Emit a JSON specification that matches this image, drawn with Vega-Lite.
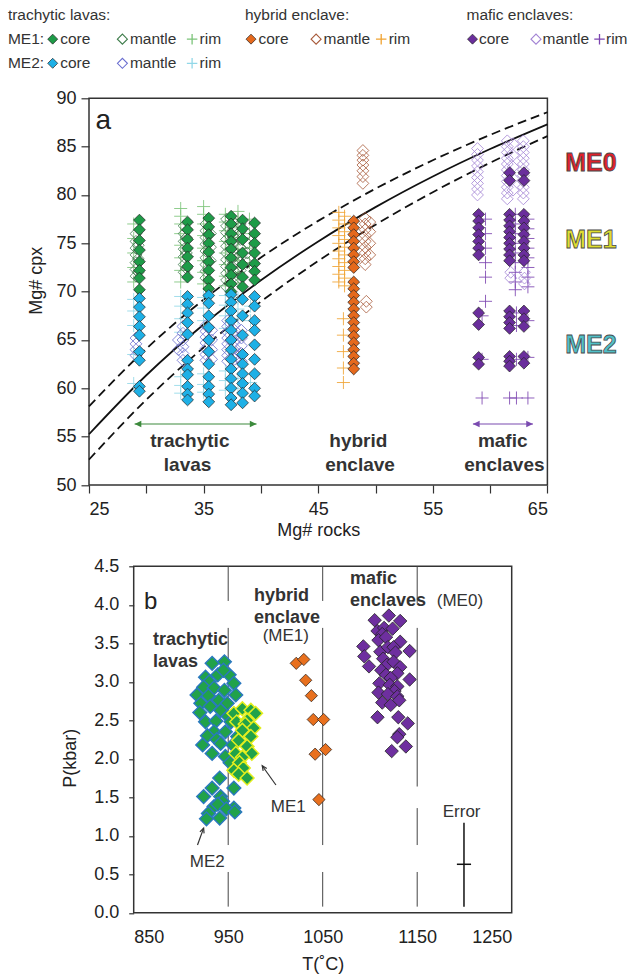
{
"$schema":"https://vega.github.io/schema/vega-lite/v6.json",
"padding":{"left":7,"top":0,"right":0,"bottom":0},
"config":{"font":"Liberation Sans","view":{"stroke":"#333","strokeWidth":1.5},
"axis":{"domain":false,"grid":false,"labelFontSize":18,"titleFontSize":18,"labelColor":"#222","titleColor":"#222","titleFontWeight":"normal","tickColor":"#333","tickWidth":1.2,"labelFont":"Liberation Sans","titleFont":"Liberation Sans"},
"text":{"font":"Liberation Sans"}},
"datasets":{
"legend":[
{"group":"trachytic","row":"r2","part":"core","series":"ME1 core"},
{"group":"trachytic","row":"r2","part":"mantle","series":"ME1 mantle"},
{"group":"trachytic","row":"r2","part":"rim","series":"ME1 rim"},
{"group":"trachytic","row":"r3","part":"core","series":"ME2 core"},
{"group":"trachytic","row":"r3","part":"mantle","series":"ME2 mantle"},
{"group":"trachytic","row":"r3","part":"rim","series":"ME2 rim"},
{"group":"hybrid","row":"r2","part":"core","series":"hybrid core"},
{"group":"hybrid","row":"r2","part":"mantle","series":"hybrid mantle"},
{"group":"hybrid","row":"r2","part":"rim","series":"hybrid rim"},
{"group":"mafic","row":"r2","part":"core","series":"mafic core"},
{"group":"mafic","row":"r2","part":"mantle","series":"mafic mantle"},
{"group":"mafic","row":"r2","part":"rim","series":"mafic rim"}],
"legendHeads":[
{"group":"trachytic","row":"r1","text":"trachytic lavas:"},
{"group":"trachytic","row":"r2","text":"ME1:"},
{"group":"trachytic","row":"r3","text":"ME2:"},
{"group":"hybrid","row":"r1","text":"hybrid enclave:"},
{"group":"mafic","row":"r1","text":"mafic enclaves:"}],
"curves":[
{"kd":"0.27","rock":25,"cpx":55.25},{"kd":"0.27","rock":30,"cpx":61.35},{"kd":"0.27","rock":35,"cpx":66.6},{"kd":"0.27","rock":40,"cpx":71.17},{"kd":"0.27","rock":45,"cpx":75.19},{"kd":"0.27","rock":50,"cpx":78.74},{"kd":"0.27","rock":55,"cpx":81.91},{"kd":"0.27","rock":60,"cpx":84.75},{"kd":"0.27","rock":65,"cpx":87.31},
{"kd":"0.24","rock":25,"cpx":58.14},{"kd":"0.24","rock":30,"cpx":64.1},{"kd":"0.24","rock":35,"cpx":69.17},{"kd":"0.24","rock":40,"cpx":73.53},{"kd":"0.24","rock":45,"cpx":77.32},{"kd":"0.24","rock":50,"cpx":80.65},{"kd":"0.24","rock":55,"cpx":83.59},{"kd":"0.24","rock":60,"cpx":86.21},{"kd":"0.24","rock":65,"cpx":88.56},
{"kd":"0.30","rock":25,"cpx":52.63},{"kd":"0.30","rock":30,"cpx":58.82},{"kd":"0.30","rock":35,"cpx":64.22},{"kd":"0.30","rock":40,"cpx":68.97},{"kd":"0.30","rock":45,"cpx":73.17},{"kd":"0.30","rock":50,"cpx":76.92},{"kd":"0.30","rock":55,"cpx":80.29},{"kd":"0.30","rock":60,"cpx":83.33},{"kd":"0.30","rock":65,"cpx":86.09}],
"cpx":[
{"series":"ME1 rim","rock":28.9,"cpx":77.0},{"series":"ME1 rim","rock":28.9,"cpx":75.5},{"series":"ME1 rim","rock":28.9,"cpx":74.0},{"series":"ME1 rim","rock":28.9,"cpx":72.5},{"series":"ME1 rim","rock":28.9,"cpx":71.0},
{"series":"ME1 rim","rock":33.0,"cpx":78.6},{"series":"ME1 rim","rock":33.0,"cpx":77.8},{"series":"ME1 rim","rock":33.0,"cpx":77.0},{"series":"ME1 rim","rock":33.0,"cpx":76.0},{"series":"ME1 rim","rock":33.0,"cpx":74.8},{"series":"ME1 rim","rock":33.0,"cpx":73.5},{"series":"ME1 rim","rock":33.0,"cpx":72.2},{"series":"ME1 rim","rock":33.0,"cpx":71.0},
{"series":"ME1 rim","rock":35.0,"cpx":78.8},{"series":"ME1 rim","rock":35.0,"cpx":78.0},{"series":"ME1 rim","rock":35.0,"cpx":77.0},{"series":"ME1 rim","rock":35.0,"cpx":75.8},{"series":"ME1 rim","rock":35.0,"cpx":74.5},{"series":"ME1 rim","rock":35.0,"cpx":73.2},{"series":"ME1 rim","rock":35.0,"cpx":72.0},{"series":"ME1 rim","rock":35.0,"cpx":70.8},
{"series":"ME1 rim","rock":36.9,"cpx":78.0},{"series":"ME1 rim","rock":36.9,"cpx":77.2},{"series":"ME1 rim","rock":36.9,"cpx":76.3},{"series":"ME1 rim","rock":36.9,"cpx":75.2},{"series":"ME1 rim","rock":36.9,"cpx":74.0},{"series":"ME1 rim","rock":36.9,"cpx":72.8},{"series":"ME1 rim","rock":36.9,"cpx":71.6},{"series":"ME1 rim","rock":36.9,"cpx":70.6},
{"series":"ME1 rim","rock":38.0,"cpx":78.3},{"series":"ME1 rim","rock":38.0,"cpx":77.5},{"series":"ME1 rim","rock":38.0,"cpx":76.6},{"series":"ME1 rim","rock":38.0,"cpx":75.6},{"series":"ME1 rim","rock":38.0,"cpx":74.4},{"series":"ME1 rim","rock":38.0,"cpx":73.2},{"series":"ME1 rim","rock":38.0,"cpx":72.0},{"series":"ME1 rim","rock":38.0,"cpx":70.9},
{"series":"ME1 rim","rock":39.0,"cpx":77.5},{"series":"ME1 rim","rock":39.0,"cpx":76.0},{"series":"ME1 rim","rock":39.0,"cpx":74.5},{"series":"ME1 rim","rock":39.0,"cpx":73.0},
{"series":"ME2 rim","rock":28.9,"cpx":69.2},{"series":"ME2 rim","rock":28.9,"cpx":68.0},{"series":"ME2 rim","rock":28.9,"cpx":66.5},{"series":"ME2 rim","rock":28.9,"cpx":63.5},{"series":"ME2 rim","rock":28.9,"cpx":60.5},
{"series":"ME2 rim","rock":33.0,"cpx":69.5},{"series":"ME2 rim","rock":33.0,"cpx":68.5},{"series":"ME2 rim","rock":33.0,"cpx":67.2},{"series":"ME2 rim","rock":33.0,"cpx":65.8},{"series":"ME2 rim","rock":33.0,"cpx":61.2},{"series":"ME2 rim","rock":33.0,"cpx":60.3},{"series":"ME2 rim","rock":33.0,"cpx":59.5},
{"series":"ME2 rim","rock":35.0,"cpx":69.4},{"series":"ME2 rim","rock":35.0,"cpx":68.3},{"series":"ME2 rim","rock":35.0,"cpx":67.0},{"series":"ME2 rim","rock":35.0,"cpx":61.5},{"series":"ME2 rim","rock":35.0,"cpx":60.4},{"series":"ME2 rim","rock":35.0,"cpx":59.6},
{"series":"ME2 rim","rock":36.9,"cpx":69.6},{"series":"ME2 rim","rock":36.9,"cpx":68.6},{"series":"ME2 rim","rock":36.9,"cpx":67.5},{"series":"ME2 rim","rock":36.9,"cpx":66.2},{"series":"ME2 rim","rock":36.9,"cpx":61.8},{"series":"ME2 rim","rock":36.9,"cpx":60.8},{"series":"ME2 rim","rock":36.9,"cpx":59.8},
{"series":"ME2 rim","rock":38.0,"cpx":69.3},{"series":"ME2 rim","rock":38.0,"cpx":68.2},{"series":"ME2 rim","rock":38.0,"cpx":67.2},{"series":"ME2 rim","rock":38.0,"cpx":61.0},{"series":"ME2 rim","rock":38.0,"cpx":60.0},
{"series":"ME2 rim","rock":39.1,"cpx":68.5},{"series":"ME2 rim","rock":39.1,"cpx":67.0},{"series":"ME2 rim","rock":39.1,"cpx":60.6},
{"series":"hybrid rim","rock":46.8,"cpx":78.2},{"series":"hybrid rim","rock":46.8,"cpx":77.4},{"series":"hybrid rim","rock":46.8,"cpx":76.6},{"series":"hybrid rim","rock":46.8,"cpx":75.8},{"series":"hybrid rim","rock":46.8,"cpx":75.0},{"series":"hybrid rim","rock":46.8,"cpx":74.2},{"series":"hybrid rim","rock":46.8,"cpx":73.4},{"series":"hybrid rim","rock":46.8,"cpx":72.6},{"series":"hybrid rim","rock":46.8,"cpx":71.8},{"series":"hybrid rim","rock":46.8,"cpx":71.0},
{"series":"hybrid rim","rock":47.3,"cpx":77.8},{"series":"hybrid rim","rock":47.3,"cpx":77.0},{"series":"hybrid rim","rock":47.3,"cpx":76.2},{"series":"hybrid rim","rock":47.3,"cpx":75.4},{"series":"hybrid rim","rock":47.3,"cpx":74.6},{"series":"hybrid rim","rock":47.3,"cpx":73.8},{"series":"hybrid rim","rock":47.3,"cpx":73.0},{"series":"hybrid rim","rock":47.3,"cpx":72.2},{"series":"hybrid rim","rock":47.3,"cpx":71.4},{"series":"hybrid rim","rock":47.3,"cpx":70.6},
{"series":"hybrid rim","rock":47.2,"cpx":67.2},{"series":"hybrid rim","rock":47.2,"cpx":65.5},{"series":"hybrid rim","rock":47.2,"cpx":63.8},{"series":"hybrid rim","rock":47.2,"cpx":62.1},{"series":"hybrid rim","rock":47.2,"cpx":60.6},
{"series":"mafic rim","rock":59.6,"cpx":77.5},{"series":"mafic rim","rock":59.6,"cpx":76.0},{"series":"mafic rim","rock":59.6,"cpx":74.5},{"series":"mafic rim","rock":59.6,"cpx":73.0},{"series":"mafic rim","rock":59.6,"cpx":71.5},{"series":"mafic rim","rock":59.6,"cpx":69.0},
{"series":"mafic rim","rock":59.3,"cpx":67.5},{"series":"mafic rim","rock":59.3,"cpx":63.0},{"series":"mafic rim","rock":59.3,"cpx":59.0},
{"series":"mafic rim","rock":62.2,"cpx":78.0},{"series":"mafic rim","rock":62.2,"cpx":77.0},{"series":"mafic rim","rock":62.2,"cpx":76.0},{"series":"mafic rim","rock":62.2,"cpx":75.0},{"series":"mafic rim","rock":62.2,"cpx":74.0},{"series":"mafic rim","rock":62.2,"cpx":73.0},{"series":"mafic rim","rock":62.2,"cpx":72.0},{"series":"mafic rim","rock":62.2,"cpx":71.0},{"series":"mafic rim","rock":62.2,"cpx":70.2},
{"series":"mafic rim","rock":63.3,"cpx":77.5},{"series":"mafic rim","rock":63.3,"cpx":76.5},{"series":"mafic rim","rock":63.3,"cpx":75.5},{"series":"mafic rim","rock":63.3,"cpx":74.5},{"series":"mafic rim","rock":63.3,"cpx":73.5},{"series":"mafic rim","rock":63.3,"cpx":72.5},{"series":"mafic rim","rock":63.3,"cpx":71.5},{"series":"mafic rim","rock":63.3,"cpx":70.5},{"series":"mafic rim","rock":63.3,"cpx":67.0},{"series":"mafic rim","rock":63.3,"cpx":63.2},{"series":"mafic rim","rock":63.3,"cpx":59.0},
{"series":"mafic rim","rock":62.3,"cpx":67.8},{"series":"mafic rim","rock":62.3,"cpx":66.5},{"series":"mafic rim","rock":62.3,"cpx":63.0},{"series":"mafic rim","rock":62.3,"cpx":59.0},{"series":"mafic rim","rock":61.7,"cpx":59.0},
{"series":"ME1 mantle","rock":29.1,"cpx":76.0},{"series":"ME1 mantle","rock":29.1,"cpx":75.2},{"series":"ME1 mantle","rock":29.1,"cpx":74.5},{"series":"ME1 mantle","rock":29.1,"cpx":73.8},{"series":"ME1 mantle","rock":29.1,"cpx":73.0},{"series":"ME1 mantle","rock":29.1,"cpx":72.3},{"series":"ME1 mantle","rock":29.1,"cpx":71.6},
{"series":"ME1 mantle","rock":29.3,"cpx":74.8},{"series":"ME1 mantle","rock":29.3,"cpx":73.4},{"series":"ME1 mantle","rock":29.3,"cpx":72.0},
{"series":"ME1 mantle","rock":33.3,"cpx":76.8},{"series":"ME1 mantle","rock":33.3,"cpx":76.0},{"series":"ME1 mantle","rock":33.3,"cpx":75.2},{"series":"ME1 mantle","rock":33.3,"cpx":74.4},{"series":"ME1 mantle","rock":33.3,"cpx":73.6},{"series":"ME1 mantle","rock":33.3,"cpx":72.8},{"series":"ME1 mantle","rock":33.3,"cpx":72.0},
{"series":"ME1 mantle","rock":33.5,"cpx":75.6},{"series":"ME1 mantle","rock":33.5,"cpx":74.0},{"series":"ME1 mantle","rock":33.5,"cpx":72.4},
{"series":"ME1 mantle","rock":35.2,"cpx":77.0},{"series":"ME1 mantle","rock":35.2,"cpx":76.3},{"series":"ME1 mantle","rock":35.2,"cpx":75.6},{"series":"ME1 mantle","rock":35.2,"cpx":74.9},{"series":"ME1 mantle","rock":35.2,"cpx":74.2},{"series":"ME1 mantle","rock":35.2,"cpx":73.5},{"series":"ME1 mantle","rock":35.2,"cpx":72.8},{"series":"ME1 mantle","rock":35.2,"cpx":72.1},{"series":"ME1 mantle","rock":35.2,"cpx":71.4},
{"series":"ME1 mantle","rock":35.6,"cpx":76.0},{"series":"ME1 mantle","rock":35.6,"cpx":74.6},{"series":"ME1 mantle","rock":35.6,"cpx":73.2},
{"series":"ME1 mantle","rock":37.0,"cpx":77.5},{"series":"ME1 mantle","rock":37.0,"cpx":76.8},{"series":"ME1 mantle","rock":37.0,"cpx":76.1},{"series":"ME1 mantle","rock":37.0,"cpx":75.4},{"series":"ME1 mantle","rock":37.0,"cpx":74.7},{"series":"ME1 mantle","rock":37.0,"cpx":74.0},{"series":"ME1 mantle","rock":37.0,"cpx":73.3},{"series":"ME1 mantle","rock":37.0,"cpx":72.6},{"series":"ME1 mantle","rock":37.0,"cpx":71.9},{"series":"ME1 mantle","rock":37.0,"cpx":71.2},{"series":"ME1 mantle","rock":37.0,"cpx":70.5},
{"series":"ME1 mantle","rock":37.6,"cpx":77.2},{"series":"ME1 mantle","rock":37.6,"cpx":76.4},{"series":"ME1 mantle","rock":37.6,"cpx":75.7},{"series":"ME1 mantle","rock":37.6,"cpx":75.0},{"series":"ME1 mantle","rock":37.6,"cpx":74.3},{"series":"ME1 mantle","rock":37.6,"cpx":73.6},{"series":"ME1 mantle","rock":37.6,"cpx":72.9},{"series":"ME1 mantle","rock":37.6,"cpx":72.2},{"series":"ME1 mantle","rock":37.6,"cpx":71.5},
{"series":"ME1 mantle","rock":38.2,"cpx":77.0},{"series":"ME1 mantle","rock":38.2,"cpx":76.2},{"series":"ME1 mantle","rock":38.2,"cpx":75.4},{"series":"ME1 mantle","rock":38.2,"cpx":74.6},{"series":"ME1 mantle","rock":38.2,"cpx":73.8},{"series":"ME1 mantle","rock":38.2,"cpx":73.0},{"series":"ME1 mantle","rock":38.2,"cpx":72.2},{"series":"ME1 mantle","rock":38.2,"cpx":71.4},
{"series":"ME1 mantle","rock":38.8,"cpx":76.0},{"series":"ME1 mantle","rock":38.8,"cpx":75.0},{"series":"ME1 mantle","rock":38.8,"cpx":74.0},{"series":"ME1 mantle","rock":38.8,"cpx":73.0},
{"series":"ME2 mantle","rock":29.1,"cpx":65.2},{"series":"ME2 mantle","rock":29.1,"cpx":64.6},{"series":"ME2 mantle","rock":29.1,"cpx":64.0},{"series":"ME2 mantle","rock":29.1,"cpx":63.4},
{"series":"ME2 mantle","rock":32.8,"cpx":65.0},{"series":"ME2 mantle","rock":32.8,"cpx":64.0},
{"series":"ME2 mantle","rock":33.2,"cpx":66.4},{"series":"ME2 mantle","rock":33.2,"cpx":65.7},{"series":"ME2 mantle","rock":33.2,"cpx":65.0},{"series":"ME2 mantle","rock":33.2,"cpx":64.3},{"series":"ME2 mantle","rock":33.2,"cpx":63.6},{"series":"ME2 mantle","rock":33.2,"cpx":62.9},
{"series":"ME2 mantle","rock":35.2,"cpx":66.5},{"series":"ME2 mantle","rock":35.2,"cpx":65.9},{"series":"ME2 mantle","rock":35.2,"cpx":65.3},{"series":"ME2 mantle","rock":35.2,"cpx":64.7},{"series":"ME2 mantle","rock":35.2,"cpx":64.1},{"series":"ME2 mantle","rock":35.2,"cpx":63.5},{"series":"ME2 mantle","rock":35.2,"cpx":62.9},
{"series":"ME2 mantle","rock":35.7,"cpx":66.0},{"series":"ME2 mantle","rock":35.7,"cpx":65.0},{"series":"ME2 mantle","rock":35.7,"cpx":64.0},{"series":"ME2 mantle","rock":35.7,"cpx":63.0},
{"series":"ME2 mantle","rock":37.1,"cpx":67.0},{"series":"ME2 mantle","rock":37.1,"cpx":66.4},{"series":"ME2 mantle","rock":37.1,"cpx":65.8},{"series":"ME2 mantle","rock":37.1,"cpx":65.2},{"series":"ME2 mantle","rock":37.1,"cpx":64.6},{"series":"ME2 mantle","rock":37.1,"cpx":64.0},{"series":"ME2 mantle","rock":37.1,"cpx":63.4},{"series":"ME2 mantle","rock":37.1,"cpx":62.8},
{"series":"ME2 mantle","rock":37.7,"cpx":66.6},{"series":"ME2 mantle","rock":37.7,"cpx":66.0},{"series":"ME2 mantle","rock":37.7,"cpx":65.4},{"series":"ME2 mantle","rock":37.7,"cpx":64.8},{"series":"ME2 mantle","rock":37.7,"cpx":64.2},{"series":"ME2 mantle","rock":37.7,"cpx":63.6},{"series":"ME2 mantle","rock":37.7,"cpx":63.0},{"series":"ME2 mantle","rock":37.7,"cpx":62.4},
{"series":"ME2 mantle","rock":38.3,"cpx":66.0},{"series":"ME2 mantle","rock":38.3,"cpx":65.2},{"series":"ME2 mantle","rock":38.3,"cpx":64.4},{"series":"ME2 mantle","rock":38.3,"cpx":63.6},{"series":"ME2 mantle","rock":38.3,"cpx":62.8},
{"series":"hybrid mantle","rock":48.9,"cpx":84.6},{"series":"hybrid mantle","rock":48.9,"cpx":84.1},{"series":"hybrid mantle","rock":48.9,"cpx":83.6},{"series":"hybrid mantle","rock":48.9,"cpx":83.1},{"series":"hybrid mantle","rock":48.9,"cpx":82.5},{"series":"hybrid mantle","rock":48.9,"cpx":81.9},{"series":"hybrid mantle","rock":48.9,"cpx":81.2},
{"series":"hybrid mantle","rock":49.1,"cpx":77.6},{"series":"hybrid mantle","rock":49.1,"cpx":77.0},{"series":"hybrid mantle","rock":49.1,"cpx":76.4},{"series":"hybrid mantle","rock":49.1,"cpx":75.8},{"series":"hybrid mantle","rock":49.1,"cpx":75.2},{"series":"hybrid mantle","rock":49.1,"cpx":74.6},{"series":"hybrid mantle","rock":49.1,"cpx":74.0},{"series":"hybrid mantle","rock":49.1,"cpx":73.4},{"series":"hybrid mantle","rock":49.1,"cpx":72.8},
{"series":"hybrid mantle","rock":49.5,"cpx":77.2},{"series":"hybrid mantle","rock":49.5,"cpx":76.2},{"series":"hybrid mantle","rock":49.5,"cpx":75.0},{"series":"hybrid mantle","rock":49.5,"cpx":73.8},
{"series":"hybrid mantle","rock":49.2,"cpx":69.0},{"series":"hybrid mantle","rock":49.2,"cpx":68.4},
{"series":"mafic mantle","rock":58.9,"cpx":84.8},{"series":"mafic mantle","rock":58.9,"cpx":84.2},{"series":"mafic mantle","rock":58.9,"cpx":83.6},{"series":"mafic mantle","rock":58.9,"cpx":83.0},{"series":"mafic mantle","rock":58.9,"cpx":82.4},{"series":"mafic mantle","rock":58.9,"cpx":81.8},{"series":"mafic mantle","rock":58.9,"cpx":81.2},{"series":"mafic mantle","rock":58.9,"cpx":80.6},{"series":"mafic mantle","rock":58.9,"cpx":80.0},
{"series":"mafic mantle","rock":61.5,"cpx":85.6},{"series":"mafic mantle","rock":61.5,"cpx":85.0},{"series":"mafic mantle","rock":61.5,"cpx":84.4},{"series":"mafic mantle","rock":61.5,"cpx":83.8},{"series":"mafic mantle","rock":61.5,"cpx":83.2},{"series":"mafic mantle","rock":61.5,"cpx":82.6},{"series":"mafic mantle","rock":61.5,"cpx":82.0},{"series":"mafic mantle","rock":61.5,"cpx":81.4},{"series":"mafic mantle","rock":61.5,"cpx":80.8},{"series":"mafic mantle","rock":61.5,"cpx":80.2},{"series":"mafic mantle","rock":61.5,"cpx":79.6},
{"series":"mafic mantle","rock":62.0,"cpx":85.3},{"series":"mafic mantle","rock":62.0,"cpx":84.1},{"series":"mafic mantle","rock":62.0,"cpx":82.9},{"series":"mafic mantle","rock":62.0,"cpx":81.7},{"series":"mafic mantle","rock":62.0,"cpx":80.5},
{"series":"mafic mantle","rock":62.9,"cpx":85.6},{"series":"mafic mantle","rock":62.9,"cpx":85.0},{"series":"mafic mantle","rock":62.9,"cpx":84.4},{"series":"mafic mantle","rock":62.9,"cpx":83.8},{"series":"mafic mantle","rock":62.9,"cpx":83.2},{"series":"mafic mantle","rock":62.9,"cpx":82.6},{"series":"mafic mantle","rock":62.9,"cpx":82.0},{"series":"mafic mantle","rock":62.9,"cpx":81.4},{"series":"mafic mantle","rock":62.9,"cpx":80.8},{"series":"mafic mantle","rock":62.9,"cpx":80.2},{"series":"mafic mantle","rock":62.9,"cpx":79.6},
{"series":"mafic mantle","rock":61.8,"cpx":72.0},{"series":"mafic mantle","rock":61.8,"cpx":71.4},{"series":"mafic mantle","rock":63.0,"cpx":72.0},{"series":"mafic mantle","rock":63.0,"cpx":71.4},{"series":"mafic mantle","rock":63.0,"cpx":70.8},
{"series":"ME1 core","rock":29.4,"cpx":77.4},{"series":"ME1 core","rock":29.4,"cpx":76.4},{"series":"ME1 core","rock":29.4,"cpx":75.3},{"series":"ME1 core","rock":29.4,"cpx":74.3},{"series":"ME1 core","rock":29.4,"cpx":73.1},{"series":"ME1 core","rock":29.4,"cpx":72.2},{"series":"ME1 core","rock":29.4,"cpx":71.4},{"series":"ME1 core","rock":29.4,"cpx":70.2},
{"series":"ME1 core","rock":33.6,"cpx":77.2},{"series":"ME1 core","rock":33.6,"cpx":76.4},{"series":"ME1 core","rock":33.6,"cpx":75.4},{"series":"ME1 core","rock":33.6,"cpx":74.5},{"series":"ME1 core","rock":33.6,"cpx":73.6},{"series":"ME1 core","rock":33.6,"cpx":72.6},{"series":"ME1 core","rock":33.6,"cpx":71.5},
{"series":"ME1 core","rock":35.45,"cpx":77.6},{"series":"ME1 core","rock":35.45,"cpx":76.7},{"series":"ME1 core","rock":35.45,"cpx":75.9},{"series":"ME1 core","rock":35.45,"cpx":75.0},{"series":"ME1 core","rock":35.45,"cpx":74.1},{"series":"ME1 core","rock":35.45,"cpx":73.1},{"series":"ME1 core","rock":35.45,"cpx":72.2},{"series":"ME1 core","rock":35.45,"cpx":71.2},{"series":"ME1 core","rock":35.45,"cpx":70.3},
{"series":"ME1 core","rock":37.4,"cpx":77.8},{"series":"ME1 core","rock":37.4,"cpx":77.0},{"series":"ME1 core","rock":37.4,"cpx":76.0},{"series":"ME1 core","rock":37.4,"cpx":75.2},{"series":"ME1 core","rock":37.4,"cpx":74.4},{"series":"ME1 core","rock":37.4,"cpx":73.5},{"series":"ME1 core","rock":37.4,"cpx":72.5},{"series":"ME1 core","rock":37.4,"cpx":71.7},{"series":"ME1 core","rock":37.4,"cpx":70.8},{"series":"ME1 core","rock":37.4,"cpx":70.0},
{"series":"ME1 core","rock":38.4,"cpx":77.4},{"series":"ME1 core","rock":38.4,"cpx":76.5},{"series":"ME1 core","rock":38.4,"cpx":75.4},{"series":"ME1 core","rock":38.4,"cpx":74.0},{"series":"ME1 core","rock":38.4,"cpx":72.8},{"series":"ME1 core","rock":38.4,"cpx":71.5},{"series":"ME1 core","rock":38.4,"cpx":70.5},
{"series":"ME1 core","rock":39.45,"cpx":77.1},{"series":"ME1 core","rock":39.45,"cpx":76.0},{"series":"ME1 core","rock":39.45,"cpx":75.0},{"series":"ME1 core","rock":39.45,"cpx":74.0},{"series":"ME1 core","rock":39.45,"cpx":72.9},{"series":"ME1 core","rock":39.45,"cpx":72.1},{"series":"ME1 core","rock":39.45,"cpx":71.2},
{"series":"ME2 core","rock":29.4,"cpx":69.3},{"series":"ME2 core","rock":29.4,"cpx":68.4},{"series":"ME2 core","rock":29.4,"cpx":67.4},{"series":"ME2 core","rock":29.4,"cpx":66.4},{"series":"ME2 core","rock":29.4,"cpx":65.5},{"series":"ME2 core","rock":29.4,"cpx":63.8},{"series":"ME2 core","rock":29.4,"cpx":62.9},{"series":"ME2 core","rock":29.4,"cpx":60.2},{"series":"ME2 core","rock":29.4,"cpx":59.7},
{"series":"ME2 core","rock":33.6,"cpx":69.5},{"series":"ME2 core","rock":33.6,"cpx":68.7},{"series":"ME2 core","rock":33.6,"cpx":67.8},{"series":"ME2 core","rock":33.6,"cpx":66.8},{"series":"ME2 core","rock":33.6,"cpx":65.6},{"series":"ME2 core","rock":33.6,"cpx":62.9},{"series":"ME2 core","rock":33.6,"cpx":62.0},{"series":"ME2 core","rock":33.6,"cpx":61.4},{"series":"ME2 core","rock":33.6,"cpx":60.2},{"series":"ME2 core","rock":33.6,"cpx":59.4},{"series":"ME2 core","rock":33.6,"cpx":58.8},
{"series":"ME2 core","rock":35.45,"cpx":69.6},{"series":"ME2 core","rock":35.45,"cpx":68.8},{"series":"ME2 core","rock":35.45,"cpx":67.5},{"series":"ME2 core","rock":35.45,"cpx":66.3},{"series":"ME2 core","rock":35.45,"cpx":65.0},{"series":"ME2 core","rock":35.45,"cpx":63.8},{"series":"ME2 core","rock":35.45,"cpx":62.5},{"series":"ME2 core","rock":35.45,"cpx":61.2},{"series":"ME2 core","rock":35.45,"cpx":60.2},{"series":"ME2 core","rock":35.45,"cpx":59.4},{"series":"ME2 core","rock":35.45,"cpx":58.6},
{"series":"ME2 core","rock":37.4,"cpx":69.7},{"series":"ME2 core","rock":37.4,"cpx":68.9},{"series":"ME2 core","rock":37.4,"cpx":68.0},{"series":"ME2 core","rock":37.4,"cpx":67.0},{"series":"ME2 core","rock":37.4,"cpx":66.0},{"series":"ME2 core","rock":37.4,"cpx":65.0},{"series":"ME2 core","rock":37.4,"cpx":64.0},{"series":"ME2 core","rock":37.4,"cpx":63.0},{"series":"ME2 core","rock":37.4,"cpx":62.0},{"series":"ME2 core","rock":37.4,"cpx":61.0},{"series":"ME2 core","rock":37.4,"cpx":60.0},{"series":"ME2 core","rock":37.4,"cpx":59.0},{"series":"ME2 core","rock":37.4,"cpx":58.3},
{"series":"ME2 core","rock":38.4,"cpx":69.2},{"series":"ME2 core","rock":38.4,"cpx":67.5},{"series":"ME2 core","rock":38.4,"cpx":65.5},{"series":"ME2 core","rock":38.4,"cpx":63.5},{"series":"ME2 core","rock":38.4,"cpx":62.5},{"series":"ME2 core","rock":38.4,"cpx":61.5},{"series":"ME2 core","rock":38.4,"cpx":60.5},{"series":"ME2 core","rock":38.4,"cpx":59.5},{"series":"ME2 core","rock":38.4,"cpx":58.5},
{"series":"ME2 core","rock":39.45,"cpx":69.5},{"series":"ME2 core","rock":39.45,"cpx":68.5},{"series":"ME2 core","rock":39.45,"cpx":67.0},{"series":"ME2 core","rock":39.45,"cpx":66.0},{"series":"ME2 core","rock":39.45,"cpx":64.5},{"series":"ME2 core","rock":39.45,"cpx":63.0},{"series":"ME2 core","rock":39.45,"cpx":61.5},{"series":"ME2 core","rock":39.45,"cpx":60.0},{"series":"ME2 core","rock":39.45,"cpx":59.2},
{"series":"hybrid core","rock":48.1,"cpx":77.3},{"series":"hybrid core","rock":48.1,"cpx":76.6},{"series":"hybrid core","rock":48.1,"cpx":75.9},{"series":"hybrid core","rock":48.1,"cpx":75.2},{"series":"hybrid core","rock":48.1,"cpx":74.5},{"series":"hybrid core","rock":48.1,"cpx":73.8},{"series":"hybrid core","rock":48.1,"cpx":73.1},{"series":"hybrid core","rock":48.1,"cpx":72.5},
{"series":"hybrid core","rock":48.1,"cpx":71.0},{"series":"hybrid core","rock":48.1,"cpx":70.3},{"series":"hybrid core","rock":48.1,"cpx":69.6},{"series":"hybrid core","rock":48.1,"cpx":68.9},{"series":"hybrid core","rock":48.1,"cpx":68.2},{"series":"hybrid core","rock":48.1,"cpx":67.5},{"series":"hybrid core","rock":48.1,"cpx":66.8},{"series":"hybrid core","rock":48.1,"cpx":66.1},{"series":"hybrid core","rock":48.1,"cpx":65.4},{"series":"hybrid core","rock":48.1,"cpx":64.7},{"series":"hybrid core","rock":48.1,"cpx":64.0},{"series":"hybrid core","rock":48.1,"cpx":63.3},{"series":"hybrid core","rock":48.1,"cpx":62.6},{"series":"hybrid core","rock":48.1,"cpx":62.0},
{"series":"mafic core","rock":59.0,"cpx":78.0},{"series":"mafic core","rock":59.0,"cpx":77.3},{"series":"mafic core","rock":59.0,"cpx":76.6},{"series":"mafic core","rock":59.0,"cpx":75.9},{"series":"mafic core","rock":59.0,"cpx":75.2},{"series":"mafic core","rock":59.0,"cpx":74.5},{"series":"mafic core","rock":59.0,"cpx":73.8},{"series":"mafic core","rock":59.0,"cpx":67.8},{"series":"mafic core","rock":59.0,"cpx":66.6},{"series":"mafic core","rock":59.0,"cpx":63.2},{"series":"mafic core","rock":59.0,"cpx":62.5},
{"series":"mafic core","rock":61.7,"cpx":82.3},{"series":"mafic core","rock":61.7,"cpx":81.5},{"series":"mafic core","rock":61.7,"cpx":78.0},{"series":"mafic core","rock":61.7,"cpx":77.4},{"series":"mafic core","rock":61.7,"cpx":76.8},{"series":"mafic core","rock":61.7,"cpx":76.2},{"series":"mafic core","rock":61.7,"cpx":75.6},{"series":"mafic core","rock":61.7,"cpx":75.0},{"series":"mafic core","rock":61.7,"cpx":74.4},{"series":"mafic core","rock":61.7,"cpx":73.8},{"series":"mafic core","rock":61.7,"cpx":73.2},{"series":"mafic core","rock":61.7,"cpx":68.0},{"series":"mafic core","rock":61.7,"cpx":67.4},{"series":"mafic core","rock":61.7,"cpx":66.8},{"series":"mafic core","rock":61.7,"cpx":66.2},{"series":"mafic core","rock":61.7,"cpx":63.3},{"series":"mafic core","rock":61.7,"cpx":62.8},{"series":"mafic core","rock":61.7,"cpx":62.3},
{"series":"mafic core","rock":62.95,"cpx":82.3},{"series":"mafic core","rock":62.95,"cpx":81.5},{"series":"mafic core","rock":62.95,"cpx":78.0},{"series":"mafic core","rock":62.95,"cpx":77.3},{"series":"mafic core","rock":62.95,"cpx":76.6},{"series":"mafic core","rock":62.95,"cpx":75.9},{"series":"mafic core","rock":62.95,"cpx":75.2},{"series":"mafic core","rock":62.95,"cpx":74.5},{"series":"mafic core","rock":62.95,"cpx":73.8},{"series":"mafic core","rock":62.95,"cpx":73.2},{"series":"mafic core","rock":62.95,"cpx":68.0},{"series":"mafic core","rock":62.95,"cpx":67.2},{"series":"mafic core","rock":62.95,"cpx":66.4},{"series":"mafic core","rock":62.95,"cpx":63.3},{"series":"mafic core","rock":62.95,"cpx":62.6}],
"pt":[
{"group":"ME2","T":933,"P":3.24},{"group":"ME2","T":946,"P":3.26},{"group":"ME2","T":926,"P":3.06},{"group":"ME2","T":939,"P":3.09},{"group":"ME2","T":951,"P":3.09},{"group":"ME2","T":945,"P":3.15},{"group":"ME2","T":930,"P":3.0},{"group":"ME2","T":956,"P":2.98},{"group":"ME2","T":924,"P":2.93},{"group":"ME2","T":935,"P":2.92},{"group":"ME2","T":946,"P":2.89},{"group":"ME2","T":917,"P":2.83},{"group":"ME2","T":958,"P":2.83},{"group":"ME2","T":929,"P":2.82},{"group":"ME2","T":940,"P":2.76},{"group":"ME2","T":921,"P":2.72},{"group":"ME2","T":931,"P":2.68},{"group":"ME2","T":949,"P":2.72},{"group":"ME2","T":942,"P":2.63},{"group":"ME2","T":920,"P":2.6},{"group":"ME2","T":950,"P":2.55},{"group":"ME2","T":926,"P":2.48},{"group":"ME2","T":937,"P":2.49},{"group":"ME2","T":953,"P":2.48},{"group":"ME2","T":935,"P":2.35},{"group":"ME2","T":947,"P":2.35},{"group":"ME2","T":928,"P":2.3},{"group":"ME2","T":960,"P":2.29},{"group":"ME2","T":938,"P":2.25},{"group":"ME2","T":923,"P":2.18},{"group":"ME2","T":942,"P":2.2},{"group":"ME2","T":955,"P":2.18},{"group":"ME2","T":933,"P":2.07},{"group":"ME2","T":947,"P":2.03},{"group":"ME2","T":952,"P":1.95},{"group":"ME2","T":941,"P":1.75},{"group":"ME2","T":933,"P":1.62},{"group":"ME2","T":956,"P":1.62},{"group":"ME2","T":924,"P":1.51},{"group":"ME2","T":942,"P":1.51},{"group":"ME2","T":944,"P":1.45},{"group":"ME2","T":935,"P":1.38},{"group":"ME2","T":939,"P":1.41},{"group":"ME2","T":956,"P":1.36},{"group":"ME2","T":948,"P":1.35},{"group":"ME2","T":957,"P":1.31},{"group":"ME2","T":929,"P":1.29},{"group":"ME2","T":941,"P":1.23},{"group":"ME2","T":927,"P":1.22},
{"group":"ME1","T":956,"P":2.59},{"group":"ME1","T":965,"P":2.65},{"group":"ME1","T":974,"P":2.63},{"group":"ME1","T":979,"P":2.59},{"group":"ME1","T":959,"P":2.48},{"group":"ME1","T":970,"P":2.5},{"group":"ME1","T":968,"P":2.45},{"group":"ME1","T":977,"P":2.4},{"group":"ME1","T":965,"P":2.37},{"group":"ME1","T":974,"P":2.29},{"group":"ME1","T":961,"P":2.24},{"group":"ME1","T":970,"P":2.16},{"group":"ME1","T":958,"P":2.07},{"group":"ME1","T":975,"P":2.07},{"group":"ME1","T":965,"P":2.02},{"group":"ME1","T":962,"P":1.95},{"group":"ME1","T":966,"P":1.88},{"group":"ME1","T":956,"P":1.85},{"group":"ME1","T":961,"P":1.8},{"group":"ME1","T":970,"P":1.75},
{"group":"hybrid","T":1022,"P":3.24},{"group":"hybrid","T":1030,"P":3.29},{"group":"hybrid","T":1032,"P":3.02},{"group":"hybrid","T":1038,"P":2.82},{"group":"hybrid","T":1040,"P":2.51},{"group":"hybrid","T":1051,"P":2.51},{"group":"hybrid","T":1042,"P":2.06},{"group":"hybrid","T":1053,"P":2.12},{"group":"hybrid","T":1046,"P":1.47},
{"group":"mafic","T":1105,"P":3.8},{"group":"mafic","T":1120,"P":3.86},{"group":"mafic","T":1132,"P":3.79},{"group":"mafic","T":1108,"P":3.66},{"group":"mafic","T":1115,"P":3.7},{"group":"mafic","T":1124,"P":3.69},{"group":"mafic","T":1113,"P":3.62},{"group":"mafic","T":1109,"P":3.54},{"group":"mafic","T":1117,"P":3.58},{"group":"mafic","T":1132,"P":3.52},{"group":"mafic","T":1093,"P":3.46},{"group":"mafic","T":1142,"P":3.4},{"group":"mafic","T":1111,"P":3.39},{"group":"mafic","T":1119,"P":3.45},{"group":"mafic","T":1125,"P":3.45},{"group":"mafic","T":1127,"P":3.38},{"group":"mafic","T":1094,"P":3.33},{"group":"mafic","T":1114,"P":3.3},{"group":"mafic","T":1099,"P":3.2},{"group":"mafic","T":1118,"P":3.22},{"group":"mafic","T":1125,"P":3.26},{"group":"mafic","T":1132,"P":3.19},{"group":"mafic","T":1112,"P":3.15},{"group":"mafic","T":1117,"P":3.09},{"group":"mafic","T":1129,"P":3.11},{"group":"mafic","T":1122,"P":3.05},{"group":"mafic","T":1142,"P":3.03},{"group":"mafic","T":1110,"P":2.98},{"group":"mafic","T":1121,"P":2.96},{"group":"mafic","T":1129,"P":2.94},{"group":"mafic","T":1126,"P":2.88},{"group":"mafic","T":1109,"P":2.86},{"group":"mafic","T":1119,"P":2.84},{"group":"mafic","T":1129,"P":2.81},{"group":"mafic","T":1113,"P":2.73},{"group":"mafic","T":1122,"P":2.7},{"group":"mafic","T":1131,"P":2.76},{"group":"mafic","T":1108,"P":2.54},{"group":"mafic","T":1130,"P":2.54},{"group":"mafic","T":1140,"P":2.46},{"group":"mafic","T":1131,"P":2.32},{"group":"mafic","T":1129,"P":2.28},{"group":"mafic","T":1138,"P":2.16},{"group":"mafic","T":1123,"P":2.1}]
},
"bounds":"flush",
"spacing":23.3,
"vconcat":[
{"width":458.4,"height":75,"view":{"stroke":null},
"resolve":{"scale":{"x":"independent"}},
"layer":[
{"encoding":{"x":{"field":"part","type":"nominal","scale":{"type":"point","domain":["core","mantle","rim"],"range":[-36.3,103.1],"padding":0},"axis":null},
"y":{"field":"row","type":"nominal","scale":{"type":"point","domain":["r1","r2","r3"],"range":[15,63.3],"padding":0},"axis":null}},
"layer":[
{"data":{"name":"legend"},"transform":[{"filter":"datum.group=='trachytic' && datum.part=='core'"}],"mark":{"type":"point","shape":"diamond","filled":true,"size":100,"opacity":1,"stroke":"#222","strokeWidth":0.7},"encoding":{"fill":{"field":"series","type":"nominal","legend":null,"scale":{"domain":["ME1 core","ME1 mantle","ME1 rim","ME2 core","ME2 mantle","ME2 rim","hybrid core","hybrid mantle","hybrid rim","mafic core","mafic mantle","mafic rim"],"range":["#1e9b48","#3f7d4c","#7cc47a","#1eb0e6","#6a6ed0","#92d8e8","#e5691c","#a85a3a","#f0a332","#6a2e9c","#a283d4","#7c45b0"]}}}},
{"data":{"name":"legend"},"transform":[{"filter":"datum.group=='trachytic' && datum.part=='mantle'"}],"mark":{"type":"point","shape":"diamond","filled":false,"size":100,"opacity":1,"strokeWidth":1.1},"encoding":{"stroke":{"field":"series","type":"nominal","legend":null,"scale":{"domain":["ME1 core","ME1 mantle","ME1 rim","ME2 core","ME2 mantle","ME2 rim","hybrid core","hybrid mantle","hybrid rim","mafic core","mafic mantle","mafic rim"],"range":["#1e9b48","#3f7d4c","#7cc47a","#1eb0e6","#6a6ed0","#92d8e8","#e5691c","#a85a3a","#f0a332","#6a2e9c","#a283d4","#7c45b0"]}}}},
{"data":{"name":"legend"},"transform":[{"filter":"datum.group=='trachytic' && datum.part=='rim'"}],"mark":{"type":"point","shape":"M-1,0H1M0,-1V1","filled":false,"size":110,"opacity":1,"strokeWidth":1.3},"encoding":{"stroke":{"field":"series","type":"nominal","legend":null}}},
{"data":{"name":"legend"},"transform":[{"filter":"datum.group=='trachytic'"}],"mark":{"type":"text","align":"left","baseline":"middle","dx":7.5,"fontSize":15.5,"color":"#333"},"encoding":{"text":{"field":"part","type":"nominal"}}},
{"data":{"name":"legendHeads"},"transform":[{"filter":"datum.group=='trachytic'"}],"mark":{"type":"text","align":"left","baseline":"middle","dx":-44.8,"fontSize":15.5,"color":"#333"},"encoding":{"x":{"datum":"core","type":"nominal"},"text":{"field":"text","type":"nominal"}}}
]},
{"encoding":{"x":{"field":"part","type":"nominal","scale":{"type":"point","domain":["core","mantle","rim"],"range":[162,292.2],"padding":0},"axis":null},
"y":{"field":"row","type":"nominal","scale":{"type":"point","domain":["r1","r2","r3"],"range":[15,63.3],"padding":0},"axis":null}},
"layer":[
{"data":{"name":"legend"},"transform":[{"filter":"datum.group=='hybrid' && datum.part=='core'"}],"mark":{"type":"point","shape":"diamond","filled":true,"size":100,"opacity":1,"stroke":"#222","strokeWidth":0.7},"encoding":{"fill":{"field":"series","type":"nominal","legend":null}}},
{"data":{"name":"legend"},"transform":[{"filter":"datum.group=='hybrid' && datum.part=='mantle'"}],"mark":{"type":"point","shape":"diamond","filled":false,"size":100,"opacity":1,"strokeWidth":1.1},"encoding":{"stroke":{"field":"series","type":"nominal","legend":null}}},
{"data":{"name":"legend"},"transform":[{"filter":"datum.group=='hybrid' && datum.part=='rim'"}],"mark":{"type":"point","shape":"M-1,0H1M0,-1V1","filled":false,"size":110,"opacity":1,"strokeWidth":1.3},"encoding":{"stroke":{"field":"series","type":"nominal","legend":null}}},
{"data":{"name":"legend"},"transform":[{"filter":"datum.group=='hybrid'"}],"mark":{"type":"text","align":"left","baseline":"middle","dx":7.5,"fontSize":15.5,"color":"#333"},"encoding":{"text":{"field":"part","type":"nominal"}}},
{"data":{"name":"legendHeads"},"transform":[{"filter":"datum.group=='hybrid'"}],"mark":{"type":"text","align":"left","baseline":"middle","dx":-6,"fontSize":15.5,"color":"#333"},"encoding":{"x":{"datum":"core","type":"nominal"},"text":{"field":"text","type":"nominal"}}}
]},
{"encoding":{"x":{"field":"part","type":"nominal","scale":{"type":"point","domain":["core","mantle","rim"],"range":[383.5,510.5],"padding":0},"axis":null},
"y":{"field":"row","type":"nominal","scale":{"type":"point","domain":["r1","r2","r3"],"range":[15,63.3],"padding":0},"axis":null}},
"layer":[
{"data":{"name":"legend"},"transform":[{"filter":"datum.group=='mafic' && datum.part=='core'"}],"mark":{"type":"point","shape":"diamond","filled":true,"size":100,"opacity":1,"stroke":"#222","strokeWidth":0.7},"encoding":{"fill":{"field":"series","type":"nominal","legend":null}}},
{"data":{"name":"legend"},"transform":[{"filter":"datum.group=='mafic' && datum.part=='mantle'"}],"mark":{"type":"point","shape":"diamond","filled":false,"size":100,"opacity":1,"strokeWidth":1.1},"encoding":{"stroke":{"field":"series","type":"nominal","legend":null}}},
{"data":{"name":"legend"},"transform":[{"filter":"datum.group=='mafic' && datum.part=='rim'"}],"mark":{"type":"point","shape":"M-1,0H1M0,-1V1","filled":false,"size":110,"opacity":1,"strokeWidth":1.3},"encoding":{"stroke":{"field":"series","type":"nominal","legend":null}}},
{"data":{"name":"legend"},"transform":[{"filter":"datum.group=='mafic'"}],"mark":{"type":"text","align":"left","baseline":"middle","dx":6.5,"fontSize":15.5,"color":"#333"},"encoding":{"text":{"field":"part","type":"nominal"}}},
{"data":{"name":"legendHeads"},"transform":[{"filter":"datum.group=='mafic'"}],"mark":{"type":"text","align":"left","baseline":"middle","dx":-6,"fontSize":15.5,"color":"#333"},"encoding":{"x":{"datum":"core","type":"nominal"},"text":{"field":"text","type":"nominal"}}}
]}
]},
{"bounds":"flush","spacing":81,
"vconcat":[
{"width":458.4,"height":386.7,
"encoding":{
"x":{"field":"rock","type":"quantitative","title":"Mg# rocks","scale":{"domain":[25,65],"nice":false,"zero":false},"axis":{"values":[25,30,35,40,45,50,55,60,65],"labelExpr":"datum.value % 10 == 5 ? datum.label : ''","labelOverlap":false,"tickSize":8,"labelPadding":7,"titlePadding":3}},
"y":{"field":"cpx","type":"quantitative","title":"Mg# cpx","scale":{"domain":[50,90],"nice":false,"zero":false},"axis":{"values":[50,55,60,65,70,75,80,85,90],"tickSize":8,"labelPadding":5,"titlePadding":10,"titleY":182}}},
"layer":[
{"data":{"values":[{"rock":28.98},{"rock":39.62}]},"mark":{"type":"rule","stroke":"#5a9e5a","strokeWidth":1.2},"encoding":{"y":{"datum":50},"y2":{"datum":90}}},
{"data":{"values":[{"rock":48.27}]},"mark":{"type":"rule","stroke":"#e8a848","strokeWidth":1.2},"encoding":{"y":{"datum":50},"y2":{"datum":90}}},
{"data":{"values":[{"rock":58.5},{"rock":63.74}]},"mark":{"type":"rule","stroke":"#8a5cbc","strokeWidth":1.2},"encoding":{"y":{"datum":50},"y2":{"datum":90}}},
{"data":{"values":[{"cpx":85.86},{"cpx":79.95}]},"mark":{"type":"rule","stroke":"#e0705f","strokeWidth":1.3,"strokeDash":[7,5]},"encoding":{"x":{"datum":25},"x2":{"datum":71.3}}},
{"data":{"values":[{"cpx":79.7},{"cpx":69.85}]},"mark":{"type":"rule","stroke":"#e9dc55","strokeWidth":2,"strokeDash":[7,5]},"encoding":{"x":{"datum":25},"x2":{"datum":71.3}}},
{"data":{"values":[{"cpx":69.62},{"cpx":59.03}]},"mark":{"type":"rule","stroke":"#86d4ec","strokeWidth":1.5,"strokeDash":[7,5]},"encoding":{"x":{"datum":25},"x2":{"datum":71.3}}},
{"data":{"name":"curves"},"transform":[{"filter":"datum.kd=='0.27'"}],"mark":{"type":"line","color":"#111","strokeWidth":1.8,"interpolate":"monotone"},"encoding":{}},
{"data":{"name":"curves"},"transform":[{"filter":"datum.kd!='0.27'"}],"mark":{"type":"line","color":"#111","strokeWidth":1.8,"strokeDash":[9,5],"interpolate":"monotone"},"encoding":{"detail":{"field":"kd","type":"nominal"}}},
{"data":{"name":"cpx"},"transform":[{"filter":"indexof(datum.series,'rim')>=0"}],"mark":{"type":"point","shape":"M-1,0H1M0,-1V1","filled":false,"size":170,"strokeWidth":1,"opacity":1,"strokeOpacity":0.85},"encoding":{"stroke":{"field":"series","type":"nominal","legend":null,"scale":{"domain":["ME1 core","ME1 mantle","ME1 rim","ME2 core","ME2 mantle","ME2 rim","hybrid core","hybrid mantle","hybrid rim","mafic core","mafic mantle","mafic rim"],"range":["#1e9b48","#3f7d4c","#7cc47a","#1eb0e6","#6a6ed0","#92d8e8","#e5691c","#a85a3a","#f0a332","#6a2e9c","#a283d4","#7c45b0"]}}}},
{"data":{"name":"cpx"},"transform":[{"filter":"indexof(datum.series,'mantle')>=0"}],"mark":{"type":"point","shape":"diamond","filled":false,"size":140,"strokeWidth":1,"opacity":1,"strokeOpacity":0.8},"encoding":{"stroke":{"field":"series","type":"nominal","legend":null}}},
{"data":{"name":"cpx"},"transform":[{"filter":"indexof(datum.series,'core')>=0"}],"mark":{"type":"point","shape":"diamond","filled":true,"size":140,"stroke":"#222","strokeWidth":0.7,"opacity":1},"encoding":{"fill":{"field":"series","type":"nominal","legend":null,"scale":{"domain":["ME1 core","ME1 mantle","ME1 rim","ME2 core","ME2 mantle","ME2 rim","hybrid core","hybrid mantle","hybrid rim","mafic core","mafic mantle","mafic rim"],"range":["#1e9b48","#3f7d4c","#7cc47a","#1eb0e6","#6a6ed0","#92d8e8","#e5691c","#a85a3a","#f0a332","#6a2e9c","#a283d4","#7c45b0"]}}}},
{"data":{"values":[{"rock":28.98,"rock2":39.62,"cpx":56.31}]},"mark":{"type":"rule","stroke":"#3c8a3c","strokeWidth":1.2},"encoding":{"x2":{"field":"rock2"}}},
{"data":{"values":[{"rock":58.5,"rock2":63.74,"cpx":56.31}]},"mark":{"type":"rule","stroke":"#7a4ab0","strokeWidth":1.2},"encoding":{"x2":{"field":"rock2"}}},
{"data":{"values":[{"rock":28.98,"cpx":56.31}]},"mark":{"type":"point","shape":"M0,0L2,-1L2,1Z","filled":true,"size":45,"opacity":1,"fill":"#3c8a3c","strokeWidth":0}},
{"data":{"values":[{"rock":39.62,"cpx":56.31}]},"mark":{"type":"point","shape":"M0,0L-2,-1L-2,1Z","filled":true,"size":45,"opacity":1,"fill":"#3c8a3c","strokeWidth":0}},
{"data":{"values":[{"rock":58.5,"cpx":56.31}]},"mark":{"type":"point","shape":"M0,0L2,-1L2,1Z","filled":true,"size":45,"opacity":1,"fill":"#7a4ab0","strokeWidth":0}},
{"data":{"values":[{"rock":63.74,"cpx":56.31}]},"mark":{"type":"point","shape":"M0,0L-2,-1L-2,1Z","filled":true,"size":45,"opacity":1,"fill":"#7a4ab0","strokeWidth":0}},
{"data":{"values":[{"label":"trachytic","rock":33.8,"cpx":54.5},{"label":"lavas","rock":33.6,"cpx":52.1},{"label":"hybrid","rock":48.5,"cpx":54.5},{"label":"enclave","rock":48.65,"cpx":52.1},{"label":"mafic","rock":61.1,"cpx":54.5},{"label":"enclaves","rock":61.25,"cpx":52.1}]},"mark":{"type":"text","fontWeight":"bold","fontSize":19,"color":"#333","baseline":"middle"},"encoding":{"text":{"field":"label","type":"nominal"}}},
{"data":{"values":[{"label":"a","rock":26.24,"cpx":87.65}]},"mark":{"type":"text","fontSize":28,"color":"#222","baseline":"middle"},"encoding":{"text":{"field":"label","type":"nominal"}}},
{"data":{"values":[{"label":"ME0","rock":68.8,"cpx":83.3}]},"mark":{"type":"text","fontWeight":"bold","fontSize":25,"fill":"#e0202a","stroke":"#4a4a4a","strokeWidth":0.8,"baseline":"middle"},"encoding":{"text":{"field":"label","type":"nominal"}}},
{"data":{"values":[{"label":"ME1","rock":68.8,"cpx":75.35}]},"mark":{"type":"text","fontWeight":"bold","fontSize":25,"fill":"#dede30","stroke":"#4a4a4a","strokeWidth":0.8,"baseline":"middle"},"encoding":{"text":{"field":"label","type":"nominal"}}},
{"data":{"values":[{"label":"ME2","rock":68.8,"cpx":64.5}]},"mark":{"type":"text","fontWeight":"bold","fontSize":25,"fill":"#50c0c8","stroke":"#4a4a4a","strokeWidth":0.8,"baseline":"middle"},"encoding":{"text":{"field":"label","type":"nominal"}}}
]},
{"bounds":"flush","spacing":43.7,
"hconcat":[
{"width":1,"height":1,"view":{"stroke":null},"data":{"values":[{}]},"mark":"text","encoding":{"text":{"value":""}}},
{"width":378,"height":346.5,
"encoding":{
"x":{"field":"T","type":"quantitative","title":"T(˚C)","scale":{"domain":[850,1250],"nice":false,"zero":false},"axis":{"values":[850,950,1050,1150,1250],"format":"d","tickSize":0,"labelPadding":16,"titlePadding":9,"labelOverlap":false}},
"y":{"field":"P","type":"quantitative","title":"P(kbar)","scale":{"domain":[0,4.5],"nice":false},"axis":{"values":[0,0.5,1,1.5,2,2.5,3,3.5,4,4.5],"format":".1f","tickSize":5,"labelPadding":10,"titlePadding":14,"titleY":191.5,"labelOverlap":false}}},
"layer":[
{"data":{"values":[{"T":950,"P":4.05,"P2":4.5},{"T":950,"P":0.88,"P2":3.7},{"T":950,"P":0.08,"P2":0.53},{"T":1050,"P":4.05,"P2":4.5},{"T":1050,"P":0.88,"P2":3.7},{"T":1050,"P":0.08,"P2":0.53},{"T":1150,"P":4.02,"P2":4.5},{"T":1150,"P":1.64,"P2":3.7},{"T":1150,"P":0.88,"P2":1.36},{"T":1150,"P":0.08,"P2":0.53}]},"mark":{"type":"rule","stroke":"#444","strokeWidth":1},"encoding":{"y2":{"field":"P2"}}},
{"data":{"values":[{"T":1199.5,"T2":1199.5,"P":0.08,"P2":1.17},{"T":1192,"T2":1207,"P":0.63,"P2":0.63}]},"mark":{"type":"rule","stroke":"#111","strokeWidth":1.5},"encoding":{"x2":{"field":"T2"},"y2":{"field":"P2"}}},
{"data":{"name":"pt"},"transform":[{"filter":"datum.group=='ME2'"}],"mark":{"type":"point","shape":"diamond","filled":true,"size":190,"opacity":1,"fill":"#21a24a","stroke":"#2a78c0","strokeWidth":1.4}},
{"data":{"name":"pt"},"transform":[{"filter":"datum.group=='ME1'"}],"mark":{"type":"point","shape":"diamond","filled":true,"size":190,"opacity":1,"fill":"#21a24a","stroke":"#e4ee1e","strokeWidth":1.5}},
{"data":{"name":"pt"},"transform":[{"filter":"datum.group=='hybrid'"}],"mark":{"type":"point","shape":"diamond","filled":true,"size":150,"opacity":1,"fill":"#e8701e","stroke":"#3a2a20","strokeWidth":0.8}},
{"data":{"name":"pt"},"transform":[{"filter":"datum.group=='mafic'"}],"mark":{"type":"point","shape":"diamond","filled":true,"size":180,"opacity":1,"fill":"#6e2f9f","stroke":"#222","strokeWidth":0.8}},
{"data":{"values":[{"T":1000.5,"P":1.66,"T2":986,"P2":1.91},{"T":917.5,"P":0.88,"T2":924,"P2":1.1}]},"mark":{"type":"rule","stroke":"#333","strokeWidth":1.2},"encoding":{"x2":{"field":"T2"},"y2":{"field":"P2"}}},
{"data":{"values":[{"T":986,"P":1.91}]},"mark":{"type":"point","shape":"M-0.55,1.2L0,0L0.55,1.2","filled":false,"size":64,"opacity":1,"stroke":"#333","strokeWidth":1.2,"angle":325}},
{"data":{"values":[{"T":924,"P":1.1}]},"mark":{"type":"point","shape":"M-0.55,1.2L0,0L0.55,1.2","filled":false,"size":64,"opacity":1,"stroke":"#333","strokeWidth":1.2,"angle":20}},
{"data":{"values":[{"label":"trachytic","T":870.4,"P":3.54},{"label":"lavas","T":870.4,"P":3.26},{"label":"hybrid","T":977.3,"P":4.12},{"label":"enclave","T":977.3,"P":3.83},{"label":"mafic","T":1078.9,"P":4.34},{"label":"enclaves","T":1078.9,"P":4.05}]},"mark":{"type":"text","align":"left","baseline":"middle","fontWeight":"bold","fontSize":18,"color":"#333"},"encoding":{"text":{"field":"label","type":"nominal"}}},
{"data":{"values":[{"label":"(ME1)","T":1011,"P":3.6},{"label":"(ME0)","T":1195.2,"P":4.05},{"label":"ME1","T":1013.5,"P":1.38},{"label":"ME2","T":927.8,"P":0.665},{"label":"Error","T":1197,"P":1.31}]},"mark":{"type":"text","align":"center","baseline":"middle","fontSize":17,"color":"#333"},"encoding":{"text":{"field":"label","type":"nominal"}}},
{"data":{"values":[{"label":"b","T":868,"P":4.03}]},"mark":{"type":"text","align":"center","baseline":"middle","fontSize":24,"color":"#222"},"encoding":{"text":{"field":"label","type":"nominal"}}}
]}
]}
]}
]}
